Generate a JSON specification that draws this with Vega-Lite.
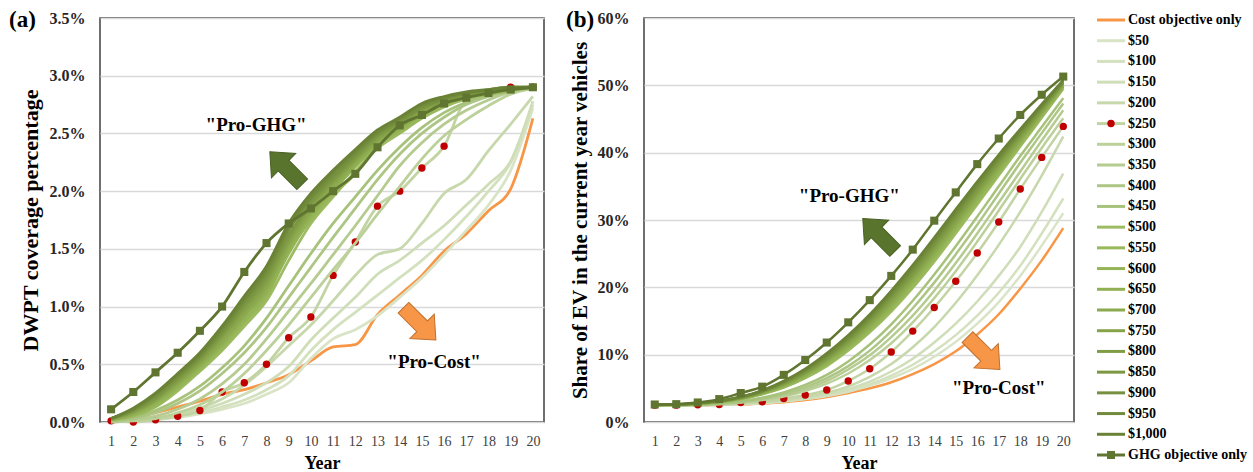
{
"$schema": "https://vega.github.io/schema/vega-lite/v6.json",
"background": "white",
"padding": {"left": 8, "top": 8, "right": 4, "bottom": 2},
"spacing": 20,
"config": {
  "font": "Liberation Serif",
  "view": {"stroke": "#404040", "strokeWidth": 1.5},
  "axis": {"labelFont": "Liberation Serif", "titleFont": "Liberation Serif"},
  "axisX": {"labelOverlap": false}
},
"datasets": {
"main": [
{"series":"Cost objective only","year":1,"coverage":0.00,"share":2.5},{"series":"Cost objective only","year":2,"coverage":0.03,"share":2.5},{"series":"Cost objective only","year":3,"coverage":0.08,"share":2.5},{"series":"Cost objective only","year":4,"coverage":0.13,"share":2.55},{"series":"Cost objective only","year":5,"coverage":0.18,"share":2.6},{"series":"Cost objective only","year":6,"coverage":0.24,"share":2.75},{"series":"Cost objective only","year":7,"coverage":0.28,"share":2.95},{"series":"Cost objective only","year":8,"coverage":0.34,"share":3.25},{"series":"Cost objective only","year":9,"coverage":0.41,"share":3.7},{"series":"Cost objective only","year":10,"coverage":0.53,"share":4.3},{"series":"Cost objective only","year":11,"coverage":0.65,"share":5.0},{"series":"Cost objective only","year":12,"coverage":0.67,"share":5.9},{"series":"Cost objective only","year":13,"coverage":0.93,"share":7.1},{"series":"Cost objective only","year":14,"coverage":1.10,"share":8.6},{"series":"Cost objective only","year":15,"coverage":1.27,"share":10.5},{"series":"Cost objective only","year":16,"coverage":1.48,"share":13.0},{"series":"Cost objective only","year":17,"coverage":1.63,"share":16.0},{"series":"Cost objective only","year":18,"coverage":1.83,"share":19.8},{"series":"Cost objective only","year":19,"coverage":2.02,"share":24.0},{"series":"Cost objective only","year":20,"coverage":2.63,"share":28.8},
{"series":"$50","year":1,"coverage":0.00,"share":2.5},{"series":"$50","year":2,"coverage":0.01,"share":2.5},{"series":"$50","year":3,"coverage":0.02,"share":2.5},{"series":"$50","year":4,"coverage":0.04,"share":2.55},{"series":"$50","year":5,"coverage":0.07,"share":2.65},{"series":"$50","year":6,"coverage":0.11,"share":2.8},{"series":"$50","year":7,"coverage":0.16,"share":3.05},{"series":"$50","year":8,"coverage":0.24,"share":3.4},{"series":"$50","year":9,"coverage":0.34,"share":3.85},{"series":"$50","year":10,"coverage":0.55,"share":4.5},{"series":"$50","year":11,"coverage":0.72,"share":5.4},{"series":"$50","year":12,"coverage":0.80,"share":6.5},{"series":"$50","year":13,"coverage":0.92,"share":7.9},{"series":"$50","year":14,"coverage":1.08,"share":9.7},{"series":"$50","year":15,"coverage":1.25,"share":11.9},{"series":"$50","year":16,"coverage":1.45,"share":14.6},{"series":"$50","year":17,"coverage":1.66,"share":17.8},{"series":"$50","year":18,"coverage":1.88,"share":21.7},{"series":"$50","year":19,"coverage":2.18,"share":26.2},{"series":"$50","year":20,"coverage":2.72,"share":31.0},
{"series":"$100","year":1,"coverage":0.00,"share":2.5},{"series":"$100","year":2,"coverage":0.01,"share":2.5},{"series":"$100","year":3,"coverage":0.02,"share":2.5},{"series":"$100","year":4,"coverage":0.05,"share":2.55},{"series":"$100","year":5,"coverage":0.08,"share":2.65},{"series":"$100","year":6,"coverage":0.13,"share":2.85},{"series":"$100","year":7,"coverage":0.19,"share":3.1},{"series":"$100","year":8,"coverage":0.28,"share":3.45},{"series":"$100","year":9,"coverage":0.40,"share":3.95},{"series":"$100","year":10,"coverage":0.62,"share":4.65},{"series":"$100","year":11,"coverage":0.80,"share":5.6},{"series":"$100","year":12,"coverage":0.95,"share":6.9},{"series":"$100","year":13,"coverage":1.10,"share":8.5},{"series":"$100","year":14,"coverage":1.25,"share":10.5},{"series":"$100","year":15,"coverage":1.40,"share":12.9},{"series":"$100","year":16,"coverage":1.58,"share":15.8},{"series":"$100","year":17,"coverage":1.78,"share":19.2},{"series":"$100","year":18,"coverage":2.00,"share":23.2},{"series":"$100","year":19,"coverage":2.25,"share":28.0},{"series":"$100","year":20,"coverage":2.75,"share":33.2},
{"series":"$150","year":1,"coverage":0.00,"share":2.5},{"series":"$150","year":2,"coverage":0.01,"share":2.5},{"series":"$150","year":3,"coverage":0.03,"share":2.5},{"series":"$150","year":4,"coverage":0.06,"share":2.55},{"series":"$150","year":5,"coverage":0.10,"share":2.7},{"series":"$150","year":6,"coverage":0.16,"share":2.9},{"series":"$150","year":7,"coverage":0.24,"share":3.15},{"series":"$150","year":8,"coverage":0.34,"share":3.55},{"series":"$150","year":9,"coverage":0.48,"share":4.1},{"series":"$150","year":10,"coverage":0.71,"share":4.9},{"series":"$150","year":11,"coverage":0.90,"share":6.0},{"series":"$150","year":12,"coverage":1.08,"share":7.5},{"series":"$150","year":13,"coverage":1.28,"share":9.4},{"series":"$150","year":14,"coverage":1.40,"share":11.8},{"series":"$150","year":15,"coverage":1.55,"share":14.6},{"series":"$150","year":16,"coverage":1.70,"share":17.9},{"series":"$150","year":17,"coverage":1.88,"share":21.7},{"series":"$150","year":18,"coverage":2.06,"share":26.0},{"series":"$150","year":19,"coverage":2.26,"share":31.2},{"series":"$150","year":20,"coverage":2.78,"share":36.9},
{"series":"$200","year":1,"coverage":0.00,"share":2.5},{"series":"$200","year":2,"coverage":0.01,"share":2.5},{"series":"$200","year":3,"coverage":0.03,"share":2.5},{"series":"$200","year":4,"coverage":0.07,"share":2.6},{"series":"$200","year":5,"coverage":0.12,"share":2.75},{"series":"$200","year":6,"coverage":0.20,"share":2.95},{"series":"$200","year":7,"coverage":0.32,"share":3.25},{"series":"$200","year":8,"coverage":0.48,"share":3.7},{"series":"$200","year":9,"coverage":0.66,"share":4.35},{"series":"$200","year":10,"coverage":0.84,"share":5.3},{"series":"$200","year":11,"coverage":1.05,"share":6.7},{"series":"$200","year":12,"coverage":1.27,"share":8.6},{"series":"$200","year":13,"coverage":1.45,"share":11.1},{"series":"$200","year":14,"coverage":1.50,"share":14.1},{"series":"$200","year":15,"coverage":1.72,"share":17.7},{"series":"$200","year":16,"coverage":1.98,"share":21.8},{"series":"$200","year":17,"coverage":2.10,"share":26.3},{"series":"$200","year":18,"coverage":2.35,"share":31.2},{"series":"$200","year":19,"coverage":2.58,"share":36.6},{"series":"$200","year":20,"coverage":2.82,"share":42.4},
{"series":"$250","year":1,"coverage":0.01,"share":2.5},{"series":"$250","year":2,"coverage":0.00,"share":2.5},{"series":"$250","year":3,"coverage":0.02,"share":2.55},{"series":"$250","year":4,"coverage":0.05,"share":2.6},{"series":"$250","year":5,"coverage":0.10,"share":2.9},{"series":"$250","year":6,"coverage":0.26,"share":3.0},{"series":"$250","year":7,"coverage":0.34,"share":3.5},{"series":"$250","year":8,"coverage":0.50,"share":4.0},{"series":"$250","year":9,"coverage":0.73,"share":4.75},{"series":"$250","year":10,"coverage":0.91,"share":6.1},{"series":"$250","year":11,"coverage":1.27,"share":7.9},{"series":"$250","year":12,"coverage":1.56,"share":10.4},{"series":"$250","year":13,"coverage":1.87,"share":13.5},{"series":"$250","year":14,"coverage":2.00,"share":17.0},{"series":"$250","year":15,"coverage":2.20,"share":20.9},{"series":"$250","year":16,"coverage":2.39,"share":25.1},{"series":"$250","year":17,"coverage":2.79,"share":29.7},{"series":"$250","year":18,"coverage":2.85,"share":34.6},{"series":"$250","year":19,"coverage":2.90,"share":39.3},{"series":"$250","year":20,"coverage":2.90,"share":43.9},
{"series":"$300","year":1,"coverage":0.00,"share":2.5},{"series":"$300","year":2,"coverage":0.01,"share":2.5},{"series":"$300","year":3,"coverage":0.03,"share":2.55},{"series":"$300","year":4,"coverage":0.08,"share":2.65},{"series":"$300","year":5,"coverage":0.15,"share":2.9},{"series":"$300","year":6,"coverage":0.26,"share":3.25},{"series":"$300","year":7,"coverage":0.42,"share":3.8},{"series":"$300","year":8,"coverage":0.62,"share":4.6},{"series":"$300","year":9,"coverage":0.84,"share":5.7},{"series":"$300","year":10,"coverage":1.08,"share":7.2},{"series":"$300","year":11,"coverage":1.32,"share":9.2},{"series":"$300","year":12,"coverage":1.55,"share":11.7},{"series":"$300","year":13,"coverage":1.80,"share":14.8},{"series":"$300","year":14,"coverage":2.04,"share":18.4},{"series":"$300","year":15,"coverage":2.28,"share":22.4},{"series":"$300","year":16,"coverage":2.48,"share":26.8},{"series":"$300","year":17,"coverage":2.62,"share":31.4},{"series":"$300","year":18,"coverage":2.74,"share":36.1},{"series":"$300","year":19,"coverage":2.84,"share":40.7},{"series":"$300","year":20,"coverage":2.89,"share":45.1},
{"series":"$350","year":1,"coverage":0.00,"share":2.5},{"series":"$350","year":2,"coverage":0.02,"share":2.5},{"series":"$350","year":3,"coverage":0.05,"share":2.55},{"series":"$350","year":4,"coverage":0.11,"share":2.7},{"series":"$350","year":5,"coverage":0.20,"share":2.95},{"series":"$350","year":6,"coverage":0.33,"share":3.35},{"series":"$350","year":7,"coverage":0.50,"share":3.95},{"series":"$350","year":8,"coverage":0.72,"share":4.85},{"series":"$350","year":9,"coverage":0.96,"share":6.1},{"series":"$350","year":10,"coverage":1.20,"share":7.8},{"series":"$350","year":11,"coverage":1.45,"share":9.9},{"series":"$350","year":12,"coverage":1.70,"share":12.6},{"series":"$350","year":13,"coverage":1.96,"share":15.8},{"series":"$350","year":14,"coverage":2.22,"share":19.5},{"series":"$350","year":15,"coverage":2.42,"share":23.6},{"series":"$350","year":16,"coverage":2.58,"share":28.0},{"series":"$350","year":17,"coverage":2.70,"share":32.6},{"series":"$350","year":18,"coverage":2.79,"share":37.2},{"series":"$350","year":19,"coverage":2.86,"share":41.8},{"series":"$350","year":20,"coverage":2.89,"share":46.3},
{"series":"$400","year":1,"coverage":0.01,"share":2.5},{"series":"$400","year":2,"coverage":0.03,"share":2.5},{"series":"$400","year":3,"coverage":0.08,"share":2.6},{"series":"$400","year":4,"coverage":0.16,"share":2.75},{"series":"$400","year":5,"coverage":0.27,"share":3.0},{"series":"$400","year":6,"coverage":0.42,"share":3.45},{"series":"$400","year":7,"coverage":0.60,"share":4.15},{"series":"$400","year":8,"coverage":0.82,"share":5.15},{"series":"$400","year":9,"coverage":1.08,"share":6.5},{"series":"$400","year":10,"coverage":1.34,"share":8.3},{"series":"$400","year":11,"coverage":1.60,"share":10.6},{"series":"$400","year":12,"coverage":1.85,"share":13.5},{"series":"$400","year":13,"coverage":2.10,"share":16.9},{"series":"$400","year":14,"coverage":2.32,"share":20.7},{"series":"$400","year":15,"coverage":2.50,"share":24.9},{"series":"$400","year":16,"coverage":2.64,"share":29.3},{"series":"$400","year":17,"coverage":2.75,"share":33.9},{"series":"$400","year":18,"coverage":2.82,"share":38.5},{"series":"$400","year":19,"coverage":2.87,"share":42.9},{"series":"$400","year":20,"coverage":2.90,"share":47.3},
{"series":"$450","year":1,"coverage":0.01,"share":2.5},{"series":"$450","year":2,"coverage":0.04,"share":2.5},{"series":"$450","year":3,"coverage":0.10,"share":2.6},{"series":"$450","year":4,"coverage":0.19,"share":2.8},{"series":"$450","year":5,"coverage":0.31,"share":3.1},{"series":"$450","year":6,"coverage":0.47,"share":3.6},{"series":"$450","year":7,"coverage":0.66,"share":4.4},{"series":"$450","year":8,"coverage":0.90,"share":5.5},{"series":"$450","year":9,"coverage":1.18,"share":7.0},{"series":"$450","year":10,"coverage":1.46,"share":9.0},{"series":"$450","year":11,"coverage":1.72,"share":11.5},{"series":"$450","year":12,"coverage":1.95,"share":14.5},{"series":"$450","year":13,"coverage":2.18,"share":18.0},{"series":"$450","year":14,"coverage":2.38,"share":21.9},{"series":"$450","year":15,"coverage":2.55,"share":26.1},{"series":"$450","year":16,"coverage":2.68,"share":30.5},{"series":"$450","year":17,"coverage":2.77,"share":35.0},{"series":"$450","year":18,"coverage":2.84,"share":39.5},{"series":"$450","year":19,"coverage":2.88,"share":43.8},{"series":"$450","year":20,"coverage":2.90,"share":48.1},
{"series":"$500","year":1,"coverage":0.02,"share":2.5},{"series":"$500","year":2,"coverage":0.05,"share":2.55},{"series":"$500","year":3,"coverage":0.13,"share":2.7},{"series":"$500","year":4,"coverage":0.27,"share":2.95},{"series":"$500","year":5,"coverage":0.44,"share":3.4},{"series":"$500","year":6,"coverage":0.62,"share":4.1},{"series":"$500","year":7,"coverage":0.83,"share":5.1},{"series":"$500","year":8,"coverage":1.05,"share":6.5},{"series":"$500","year":9,"coverage":1.40,"share":8.3},{"series":"$500","year":10,"coverage":1.72,"share":10.6},{"series":"$500","year":11,"coverage":1.95,"share":13.3},{"series":"$500","year":12,"coverage":2.17,"share":16.4},{"series":"$500","year":13,"coverage":2.37,"share":19.9},{"series":"$500","year":14,"coverage":2.50,"share":23.8},{"series":"$500","year":15,"coverage":2.63,"share":28.0},{"series":"$500","year":16,"coverage":2.73,"share":32.3},{"series":"$500","year":17,"coverage":2.80,"share":36.6},{"series":"$500","year":18,"coverage":2.84,"share":40.9},{"series":"$500","year":19,"coverage":2.87,"share":45.2},{"series":"$500","year":20,"coverage":2.90,"share":49.5},
{"series":"$550","year":1,"coverage":0.02,"share":2.5},{"series":"$550","year":2,"coverage":0.06,"share":2.6},{"series":"$550","year":3,"coverage":0.14,"share":2.7},{"series":"$550","year":4,"coverage":0.29,"share":3.0},{"series":"$550","year":5,"coverage":0.46,"share":3.4},{"series":"$550","year":6,"coverage":0.64,"share":4.2},{"series":"$550","year":7,"coverage":0.86,"share":5.2},{"series":"$550","year":8,"coverage":1.08,"share":6.6},{"series":"$550","year":9,"coverage":1.48,"share":8.5},{"series":"$550","year":10,"coverage":1.75,"share":10.8},{"series":"$550","year":11,"coverage":1.97,"share":13.6},{"series":"$550","year":12,"coverage":2.15,"share":16.7},{"series":"$550","year":13,"coverage":2.40,"share":20.2},{"series":"$550","year":14,"coverage":2.51,"share":24.2},{"series":"$550","year":15,"coverage":2.64,"share":28.4},{"series":"$550","year":16,"coverage":2.74,"share":32.6},{"series":"$550","year":17,"coverage":2.81,"share":36.9},{"series":"$550","year":18,"coverage":2.84,"share":41.2},{"series":"$550","year":19,"coverage":2.87,"share":45.4},{"series":"$550","year":20,"coverage":2.90,"share":49.6},
{"series":"$600","year":1,"coverage":0.02,"share":2.5},{"series":"$600","year":2,"coverage":0.06,"share":2.6},{"series":"$600","year":3,"coverage":0.15,"share":2.7},{"series":"$600","year":4,"coverage":0.30,"share":3.0},{"series":"$600","year":5,"coverage":0.47,"share":3.5},{"series":"$600","year":6,"coverage":0.66,"share":4.2},{"series":"$600","year":7,"coverage":0.88,"share":5.3},{"series":"$600","year":8,"coverage":1.11,"share":6.8},{"series":"$600","year":9,"coverage":1.46,"share":8.7},{"series":"$600","year":10,"coverage":1.77,"share":11.1},{"series":"$600","year":11,"coverage":2.00,"share":13.8},{"series":"$600","year":12,"coverage":2.21,"share":17.0},{"series":"$600","year":13,"coverage":2.40,"share":20.6},{"series":"$600","year":14,"coverage":2.53,"share":24.5},{"series":"$600","year":15,"coverage":2.66,"share":28.7},{"series":"$600","year":16,"coverage":2.75,"share":33.0},{"series":"$600","year":17,"coverage":2.81,"share":37.2},{"series":"$600","year":18,"coverage":2.85,"share":41.4},{"series":"$600","year":19,"coverage":2.88,"share":45.6},{"series":"$600","year":20,"coverage":2.90,"share":49.8},
{"series":"$650","year":1,"coverage":0.02,"share":2.5},{"series":"$650","year":2,"coverage":0.07,"share":2.6},{"series":"$650","year":3,"coverage":0.17,"share":2.7},{"series":"$650","year":4,"coverage":0.32,"share":3.0},{"series":"$650","year":5,"coverage":0.49,"share":3.5},{"series":"$650","year":6,"coverage":0.68,"share":4.3},{"series":"$650","year":7,"coverage":0.91,"share":5.4},{"series":"$650","year":8,"coverage":1.14,"share":6.9},{"series":"$650","year":9,"coverage":1.50,"share":8.9},{"series":"$650","year":10,"coverage":1.80,"share":11.3},{"series":"$650","year":11,"coverage":2.02,"share":14.1},{"series":"$650","year":12,"coverage":2.23,"share":17.3},{"series":"$650","year":13,"coverage":2.42,"share":20.9},{"series":"$650","year":14,"coverage":2.54,"share":24.9},{"series":"$650","year":15,"coverage":2.67,"share":29.1},{"series":"$650","year":16,"coverage":2.76,"share":33.3},{"series":"$650","year":17,"coverage":2.82,"share":37.5},{"series":"$650","year":18,"coverage":2.85,"share":41.7},{"series":"$650","year":19,"coverage":2.88,"share":45.8},{"series":"$650","year":20,"coverage":2.90,"share":49.9},
{"series":"$700","year":1,"coverage":0.02,"share":2.5},{"series":"$700","year":2,"coverage":0.08,"share":2.6},{"series":"$700","year":3,"coverage":0.18,"share":2.7},{"series":"$700","year":4,"coverage":0.33,"share":3.0},{"series":"$700","year":5,"coverage":0.50,"share":3.5},{"series":"$700","year":6,"coverage":0.70,"share":4.3},{"series":"$700","year":7,"coverage":0.93,"share":5.5},{"series":"$700","year":8,"coverage":1.17,"share":7.1},{"series":"$700","year":9,"coverage":1.53,"share":9.1},{"series":"$700","year":10,"coverage":1.82,"share":11.5},{"series":"$700","year":11,"coverage":2.04,"share":14.4},{"series":"$700","year":12,"coverage":2.25,"share":17.6},{"series":"$700","year":13,"coverage":2.43,"share":21.3},{"series":"$700","year":14,"coverage":2.56,"share":25.2},{"series":"$700","year":15,"coverage":2.68,"share":29.4},{"series":"$700","year":16,"coverage":2.77,"share":33.7},{"series":"$700","year":17,"coverage":2.82,"share":37.8},{"series":"$700","year":18,"coverage":2.86,"share":41.9},{"series":"$700","year":19,"coverage":2.88,"share":46.0},{"series":"$700","year":20,"coverage":2.90,"share":50.0},
{"series":"$750","year":1,"coverage":0.03,"share":2.55},{"series":"$750","year":2,"coverage":0.09,"share":2.6},{"series":"$750","year":3,"coverage":0.19,"share":2.75},{"series":"$750","year":4,"coverage":0.35,"share":3.05},{"series":"$750","year":5,"coverage":0.52,"share":3.6},{"series":"$750","year":6,"coverage":0.73,"share":4.4},{"series":"$750","year":7,"coverage":0.96,"share":5.6},{"series":"$750","year":8,"coverage":1.20,"share":7.2},{"series":"$750","year":9,"coverage":1.56,"share":9.3},{"series":"$750","year":10,"coverage":1.85,"share":11.8},{"series":"$750","year":11,"coverage":2.07,"share":14.7},{"series":"$750","year":12,"coverage":2.27,"share":18.0},{"series":"$750","year":13,"coverage":2.45,"share":21.6},{"series":"$750","year":14,"coverage":2.57,"share":25.6},{"series":"$750","year":15,"coverage":2.70,"share":29.8},{"series":"$750","year":16,"coverage":2.78,"share":34.0},{"series":"$750","year":17,"coverage":2.83,"share":38.2},{"series":"$750","year":18,"coverage":2.86,"share":42.2},{"series":"$750","year":19,"coverage":2.89,"share":46.2},{"series":"$750","year":20,"coverage":2.90,"share":50.2},
{"series":"$800","year":1,"coverage":0.03,"share":2.6},{"series":"$800","year":2,"coverage":0.09,"share":2.6},{"series":"$800","year":3,"coverage":0.20,"share":2.8},{"series":"$800","year":4,"coverage":0.36,"share":3.1},{"series":"$800","year":5,"coverage":0.54,"share":3.6},{"series":"$800","year":6,"coverage":0.75,"share":4.5},{"series":"$800","year":7,"coverage":0.99,"share":5.7},{"series":"$800","year":8,"coverage":1.23,"share":7.3},{"series":"$800","year":9,"coverage":1.59,"share":9.4},{"series":"$800","year":10,"coverage":1.88,"share":12.0},{"series":"$800","year":11,"coverage":2.09,"share":14.9},{"series":"$800","year":12,"coverage":2.28,"share":18.3},{"series":"$800","year":13,"coverage":2.47,"share":21.9},{"series":"$800","year":14,"coverage":2.58,"share":26.0},{"series":"$800","year":15,"coverage":2.71,"share":30.2},{"series":"$800","year":16,"coverage":2.78,"share":34.3},{"series":"$800","year":17,"coverage":2.84,"share":38.5},{"series":"$800","year":18,"coverage":2.86,"share":42.5},{"series":"$800","year":19,"coverage":2.89,"share":46.4},{"series":"$800","year":20,"coverage":2.90,"share":50.3},
{"series":"$850","year":1,"coverage":0.03,"share":2.6},{"series":"$850","year":2,"coverage":0.10,"share":2.6},{"series":"$850","year":3,"coverage":0.21,"share":2.8},{"series":"$850","year":4,"coverage":0.38,"share":3.1},{"series":"$850","year":5,"coverage":0.55,"share":3.6},{"series":"$850","year":6,"coverage":0.77,"share":4.5},{"series":"$850","year":7,"coverage":1.01,"share":5.8},{"series":"$850","year":8,"coverage":1.26,"share":7.5},{"series":"$850","year":9,"coverage":1.62,"share":9.6},{"series":"$850","year":10,"coverage":1.90,"share":12.2},{"series":"$850","year":11,"coverage":2.11,"share":15.2},{"series":"$850","year":12,"coverage":2.30,"share":18.6},{"series":"$850","year":13,"coverage":2.48,"share":22.3},{"series":"$850","year":14,"coverage":2.60,"share":26.3},{"series":"$850","year":15,"coverage":2.72,"share":30.5},{"series":"$850","year":16,"coverage":2.79,"share":34.7},{"series":"$850","year":17,"coverage":2.84,"share":38.8},{"series":"$850","year":18,"coverage":2.87,"share":42.7},{"series":"$850","year":19,"coverage":2.89,"share":46.6},{"series":"$850","year":20,"coverage":2.90,"share":50.4},
{"series":"$900","year":1,"coverage":0.03,"share":2.6},{"series":"$900","year":2,"coverage":0.11,"share":2.6},{"series":"$900","year":3,"coverage":0.23,"share":2.8},{"series":"$900","year":4,"coverage":0.39,"share":3.1},{"series":"$900","year":5,"coverage":0.57,"share":3.7},{"series":"$900","year":6,"coverage":0.79,"share":4.6},{"series":"$900","year":7,"coverage":1.04,"share":5.9},{"series":"$900","year":8,"coverage":1.29,"share":7.6},{"series":"$900","year":9,"coverage":1.66,"share":9.8},{"series":"$900","year":10,"coverage":1.93,"share":12.4},{"series":"$900","year":11,"coverage":2.13,"share":15.5},{"series":"$900","year":12,"coverage":2.32,"share":18.9},{"series":"$900","year":13,"coverage":2.50,"share":22.6},{"series":"$900","year":14,"coverage":2.61,"share":26.7},{"series":"$900","year":15,"coverage":2.73,"share":30.9},{"series":"$900","year":16,"coverage":2.80,"share":35.0},{"series":"$900","year":17,"coverage":2.85,"share":39.1},{"series":"$900","year":18,"coverage":2.87,"share":43.0},{"series":"$900","year":19,"coverage":2.89,"share":46.8},{"series":"$900","year":20,"coverage":2.90,"share":50.5},
{"series":"$950","year":1,"coverage":0.03,"share":2.6},{"series":"$950","year":2,"coverage":0.11,"share":2.6},{"series":"$950","year":3,"coverage":0.24,"share":2.8},{"series":"$950","year":4,"coverage":0.41,"share":3.1},{"series":"$950","year":5,"coverage":0.58,"share":3.7},{"series":"$950","year":6,"coverage":0.81,"share":4.6},{"series":"$950","year":7,"coverage":1.06,"share":6.0},{"series":"$950","year":8,"coverage":1.32,"share":7.8},{"series":"$950","year":9,"coverage":1.69,"share":10.0},{"series":"$950","year":10,"coverage":1.95,"share":12.7},{"series":"$950","year":11,"coverage":2.16,"share":15.7},{"series":"$950","year":12,"coverage":2.34,"share":19.2},{"series":"$950","year":13,"coverage":2.51,"share":23.0},{"series":"$950","year":14,"coverage":2.63,"share":27.0},{"series":"$950","year":15,"coverage":2.75,"share":31.2},{"series":"$950","year":16,"coverage":2.81,"share":35.4},{"series":"$950","year":17,"coverage":2.85,"share":39.4},{"series":"$950","year":18,"coverage":2.88,"share":43.2},{"series":"$950","year":19,"coverage":2.90,"share":47.0},{"series":"$950","year":20,"coverage":2.90,"share":50.7},
{"series":"$1,000","year":1,"coverage":0.03,"share":2.6},{"series":"$1,000","year":2,"coverage":0.12,"share":2.65},{"series":"$1,000","year":3,"coverage":0.25,"share":2.8},{"series":"$1,000","year":4,"coverage":0.42,"share":3.15},{"series":"$1,000","year":5,"coverage":0.60,"share":3.75},{"series":"$1,000","year":6,"coverage":0.83,"share":4.7},{"series":"$1,000","year":7,"coverage":1.09,"share":6.1},{"series":"$1,000","year":8,"coverage":1.35,"share":7.9},{"series":"$1,000","year":9,"coverage":1.72,"share":10.2},{"series":"$1,000","year":10,"coverage":1.98,"share":12.9},{"series":"$1,000","year":11,"coverage":2.18,"share":16.0},{"series":"$1,000","year":12,"coverage":2.36,"share":19.5},{"series":"$1,000","year":13,"coverage":2.53,"share":23.3},{"series":"$1,000","year":14,"coverage":2.64,"share":27.4},{"series":"$1,000","year":15,"coverage":2.76,"share":31.6},{"series":"$1,000","year":16,"coverage":2.82,"share":35.7},{"series":"$1,000","year":17,"coverage":2.86,"share":39.7},{"series":"$1,000","year":18,"coverage":2.88,"share":43.5},{"series":"$1,000","year":19,"coverage":2.90,"share":47.2},{"series":"$1,000","year":20,"coverage":2.90,"share":50.8},
{"series":"GHG objective only","year":1,"coverage":0.11,"share":2.6},{"series":"GHG objective only","year":2,"coverage":0.26,"share":2.65},{"series":"GHG objective only","year":3,"coverage":0.43,"share":2.9},{"series":"GHG objective only","year":4,"coverage":0.60,"share":3.4},{"series":"GHG objective only","year":5,"coverage":0.79,"share":4.3},{"series":"GHG objective only","year":6,"coverage":1.00,"share":5.25},{"series":"GHG objective only","year":7,"coverage":1.30,"share":7.0},{"series":"GHG objective only","year":8,"coverage":1.55,"share":9.2},{"series":"GHG objective only","year":9,"coverage":1.72,"share":11.8},{"series":"GHG objective only","year":10,"coverage":1.85,"share":14.8},{"series":"GHG objective only","year":11,"coverage":2.00,"share":18.1},{"series":"GHG objective only","year":12,"coverage":2.15,"share":21.7},{"series":"GHG objective only","year":13,"coverage":2.38,"share":25.6},{"series":"GHG objective only","year":14,"coverage":2.57,"share":29.9},{"series":"GHG objective only","year":15,"coverage":2.66,"share":34.1},{"series":"GHG objective only","year":16,"coverage":2.76,"share":38.3},{"series":"GHG objective only","year":17,"coverage":2.81,"share":42.1},{"series":"GHG objective only","year":18,"coverage":2.85,"share":45.6},{"series":"GHG objective only","year":19,"coverage":2.88,"share":48.6},{"series":"GHG objective only","year":20,"coverage":2.90,"share":51.3}
],
"notesA": [
{"kind":"text","label":"\"Pro-GHG\"","year":7.53,"coverage":2.57},
{"kind":"text","label":"\"Pro-Cost\"","year":15.55,"coverage":0.52},
{"kind":"ghg","label":"","year":8.88,"coverage":2.2},
{"kind":"cost","label":"","year":14.9,"coverage":0.85}
],
"notesB": [
{"kind":"text","label":"\"Pro-GHG\"","year":10.05,"share":33.5},
{"kind":"text","label":"\"Pro-Cost\"","year":17.0,"share":5.0},
{"kind":"ghg","label":"","year":11.43,"share":27.8},
{"kind":"cost","label":"","year":16.3,"share":10.2}
],
"legend": [
{"series":"Cost objective only"},{"series":"$50"},{"series":"$100"},{"series":"$150"},{"series":"$200"},{"series":"$250"},{"series":"$300"},{"series":"$350"},{"series":"$400"},{"series":"$450"},{"series":"$500"},{"series":"$550"},{"series":"$600"},{"series":"$650"},{"series":"$700"},{"series":"$750"},{"series":"$800"},{"series":"$850"},{"series":"$900"},{"series":"$950"},{"series":"$1,000"},{"series":"GHG objective only"}
]
},
"hconcat": [
{
  "width": 444, "height": 404,
  "title": {"text": "(a)", "anchor": "start", "frame": "bounds", "orient": "top", "offset": -22, "dx": -10, "fontSize": 23, "fontWeight": "bold", "font": "Liberation Serif", "color": "#000000"},
  "encoding": {
    "x": {"field": "year", "type": "quantitative", "scale": {"domain": [0.5, 20.5], "nice": false, "zero": false},
          "axis": {"values": [1,2,3,4,5,6,7,8,9,10,11,12,13,14,15,16,17,18,19,20], "format": "d", "labelOverlap": false, "labelBound": false, "labelFlush": false, "grid": false, "ticks": false, "domain": false, "labelFontSize": 14, "labelColor": "#404040", "labelPadding": 12, "title": "Year", "titleFontSize": 18, "titleFontWeight": "bold", "titleColor": "#000000", "titlePadding": 6}},
    "y": {"field": "coverage", "type": "quantitative", "scale": {"domain": [0, 3.5], "nice": false},
          "axis": {"values": [0,0.5,1,1.5,2,2.5,3,3.5], "labelExpr": "format(datum.value, '.1f') + '%'", "grid": true, "gridColor": "#D9D9D9", "gridWidth": 1.5, "ticks": false, "domain": false, "labelFontSize": 16, "labelFontWeight": "bold", "labelColor": "#262626", "labelPadding": 15, "title": "DWPT coverage percentage", "titleFontSize": 22, "titleFontWeight": "bold", "titleColor": "#000000", "titlePadding": 7}}
  },
  "layer": [
    {
      "data": {"name": "main"},
      "transform": [{"filter": "indexof(['Cost objective only','$50','$100','$150','$200','$250'], datum.series) >= 0"}],
      "mark": {"type": "line", "strokeWidth": 2.8, "interpolate": "monotone"},
      "encoding": {
        "color": {"field": "series", "type": "nominal", "legend": null,
          "scale": {"domain": ["Cost objective only","$50","$100","$150","$200","$250","$300","$350","$400","$450","$500","$550","$600","$650","$700","$750","$800","$850","$900","$950","$1,000","GHG objective only"],
                    "range": ["#F79646","#D9E4C7","#D4E1BF","#CFDDB8","#C8D8AD","#C3D4A4","#BCD09A","#B5CB90","#AEC685","#A7C27B","#9DBB62","#98B85A","#94B456","#90AF52","#8BA94E","#86A34A","#809D46","#7B9742","#75903E","#70893A","#6A8236","#5F7530"]}}
      }
    },
    {
      "data": {"name": "main"},
      "transform": [{"filter": "datum.series === '$250'"}],
      "mark": {"type": "point", "filled": true, "shape": "circle", "size": 55, "color": "#C00000", "opacity": 1}
    },
    {
      "data": {"name": "main"},
      "transform": [{"filter": "indexof(['Cost objective only','$50','$100','$150','$200','$250'], datum.series) < 0"}],
      "mark": {"type": "line", "strokeWidth": 2.8, "interpolate": "monotone"},
      "encoding": {"color": {"field": "series", "type": "nominal", "legend": null}}
    },
    {
      "data": {"name": "main"},
      "transform": [{"filter": "datum.series === 'GHG objective only'"}],
      "mark": {"type": "point", "filled": true, "shape": "square", "size": 65, "color": "#5F7530", "opacity": 1}
    },
    {
      "data": {"name": "notesA"},
      "transform": [{"filter": "datum.kind === 'text'"}],
      "mark": {"type": "text", "font": "Liberation Serif", "fontWeight": "bold", "fontSize": 19, "color": "#000000"},
      "encoding": {"text": {"field": "label"}}
    },
    {
      "data": {"name": "notesA"},
      "transform": [{"filter": "datum.kind === 'ghg'"}],
      "mark": {"type": "point", "filled": true, "shape": "M0,-1L0.75,-0.15L0.33,-0.15L0.33,1L-0.33,1L-0.33,-0.15L-0.75,-0.15Z", "size": 2100, "angle": -45, "color": "#58742D", "stroke": "#4A6024", "strokeWidth": 1, "opacity": 1}
    },
    {
      "data": {"name": "notesA"},
      "transform": [{"filter": "datum.kind === 'cost'"}],
      "mark": {"type": "point", "filled": true, "shape": "M0,-1L0.75,-0.15L0.33,-0.15L0.33,1L-0.33,1L-0.33,-0.15L-0.75,-0.15Z", "size": 2100, "angle": 135, "color": "#F79646", "stroke": "#C0702E", "strokeWidth": 1, "opacity": 1}
    }
  ]
},
{
  "width": 430, "height": 404,
  "title": {"text": "(b)", "anchor": "start", "frame": "bounds", "orient": "top", "offset": -22, "dx": -3, "fontSize": 23, "fontWeight": "bold", "font": "Liberation Serif", "color": "#000000"},
  "encoding": {
    "x": {"field": "year", "type": "quantitative", "scale": {"domain": [0.5, 20.5], "nice": false, "zero": false},
          "axis": {"values": [1,2,3,4,5,6,7,8,9,10,11,12,13,14,15,16,17,18,19,20], "format": "d", "labelOverlap": false, "labelBound": false, "labelFlush": false, "grid": false, "ticks": false, "domain": false, "labelFontSize": 14, "labelColor": "#404040", "labelPadding": 12, "title": "Year", "titleFontSize": 18, "titleFontWeight": "bold", "titleColor": "#000000", "titlePadding": 6}},
    "y": {"field": "share", "type": "quantitative", "scale": {"domain": [0, 60], "nice": false},
          "axis": {"values": [0,10,20,30,40,50,60], "labelExpr": "datum.value + '%'", "grid": true, "gridColor": "#D9D9D9", "gridWidth": 1.5, "ticks": false, "domain": false, "labelFontSize": 16, "labelFontWeight": "bold", "labelColor": "#262626", "labelPadding": 15, "title": "Share of EV in the current year vehicles", "titleFontSize": 21, "titleFontWeight": "bold", "titleColor": "#000000", "titlePadding": 7}}
  },
  "layer": [
    {
      "data": {"name": "main"},
      "transform": [{"filter": "indexof(['Cost objective only','$50','$100','$150','$200','$250'], datum.series) >= 0"}],
      "mark": {"type": "line", "strokeWidth": 2.5, "interpolate": "monotone"},
      "encoding": {
        "color": {"field": "series", "type": "nominal", "legend": null,
          "scale": {"domain": ["Cost objective only","$50","$100","$150","$200","$250","$300","$350","$400","$450","$500","$550","$600","$650","$700","$750","$800","$850","$900","$950","$1,000","GHG objective only"],
                    "range": ["#F79646","#D9E4C7","#D4E1BF","#CFDDB8","#C8D8AD","#C3D4A4","#BCD09A","#B5CB90","#AEC685","#A7C27B","#9DBB62","#98B85A","#94B456","#90AF52","#8BA94E","#86A34A","#809D46","#7B9742","#75903E","#70893A","#6A8236","#5F7530"]}}
      }
    },
    {
      "data": {"name": "main"},
      "transform": [{"filter": "datum.series === '$250'"}],
      "mark": {"type": "point", "filled": true, "shape": "circle", "size": 55, "color": "#C00000", "opacity": 1}
    },
    {
      "data": {"name": "main"},
      "transform": [{"filter": "indexof(['Cost objective only','$50','$100','$150','$200','$250'], datum.series) < 0"}],
      "mark": {"type": "line", "strokeWidth": 2.5, "interpolate": "monotone"},
      "encoding": {"color": {"field": "series", "type": "nominal", "legend": null}}
    },
    {
      "data": {"name": "main"},
      "transform": [{"filter": "datum.series === 'GHG objective only'"}],
      "mark": {"type": "point", "filled": true, "shape": "square", "size": 65, "color": "#5F7530", "opacity": 1}
    },
    {
      "data": {"name": "notesB"},
      "transform": [{"filter": "datum.kind === 'text'"}],
      "mark": {"type": "text", "font": "Liberation Serif", "fontWeight": "bold", "fontSize": 19, "color": "#000000"},
      "encoding": {"text": {"field": "label"}}
    },
    {
      "data": {"name": "notesB"},
      "transform": [{"filter": "datum.kind === 'ghg'"}],
      "mark": {"type": "point", "filled": true, "shape": "M0,-1L0.75,-0.15L0.33,-0.15L0.33,1L-0.33,1L-0.33,-0.15L-0.75,-0.15Z", "size": 2100, "angle": -45, "color": "#58742D", "stroke": "#4A6024", "strokeWidth": 1, "opacity": 1}
    },
    {
      "data": {"name": "notesB"},
      "transform": [{"filter": "datum.kind === 'cost'"}],
      "mark": {"type": "point", "filled": true, "shape": "M0,-1L0.75,-0.15L0.33,-0.15L0.33,1L-0.33,1L-0.33,-0.15L-0.75,-0.15Z", "size": 2100, "angle": 135, "color": "#F79646", "stroke": "#C0702E", "strokeWidth": 1, "opacity": 1}
    }
  ]
},
{
  "width": 28, "height": 439,
  "view": {"stroke": null},
  "data": {"name": "legend"},
  "encoding": {
    "y": {"field": "series", "type": "ordinal", "sort": null, "axis": null,
          "scale": {"type": "point", "padding": 0.0966, "domain": ["Cost objective only","$50","$100","$150","$200","$250","$300","$350","$400","$450","$500","$550","$600","$650","$700","$750","$800","$850","$900","$950","$1,000","GHG objective only"]}}
  },
  "layer": [
    {
      "mark": {"type": "rule", "strokeWidth": 3},
      "encoding": {
        "x": {"datum": 0, "type": "quantitative", "scale": {"domain": [0, 1]}, "axis": null},
        "x2": {"datum": 1},
        "color": {"field": "series", "type": "nominal", "legend": null,
          "scale": {"domain": ["Cost objective only","$50","$100","$150","$200","$250","$300","$350","$400","$450","$500","$550","$600","$650","$700","$750","$800","$850","$900","$950","$1,000","GHG objective only"],
                    "range": ["#F79646","#D9E4C7","#D4E1BF","#CFDDB8","#C8D8AD","#C3D4A4","#BCD09A","#B5CB90","#AEC685","#A7C27B","#9DBB62","#98B85A","#94B456","#90AF52","#8BA94E","#86A34A","#809D46","#7B9742","#75903E","#70893A","#6A8236","#5F7530"]}}
      }
    },
    {
      "transform": [{"filter": "datum.series === '$250'"}],
      "mark": {"type": "point", "filled": true, "shape": "circle", "size": 55, "color": "#C00000", "opacity": 1},
      "encoding": {"x": {"datum": 0.5, "type": "quantitative"}}
    },
    {
      "transform": [{"filter": "datum.series === 'GHG objective only'"}],
      "mark": {"type": "point", "filled": true, "shape": "square", "size": 65, "color": "#5F7530", "opacity": 1},
      "encoding": {"x": {"datum": 0.5, "type": "quantitative"}}
    },
    {
      "mark": {"type": "text", "align": "left", "dx": 3, "font": "Liberation Serif", "fontWeight": "bold", "fontSize": 14, "color": "#000000"},
      "encoding": {"x": {"datum": 1, "type": "quantitative"}, "text": {"field": "series"}}
    }
  ]
}
]
}
